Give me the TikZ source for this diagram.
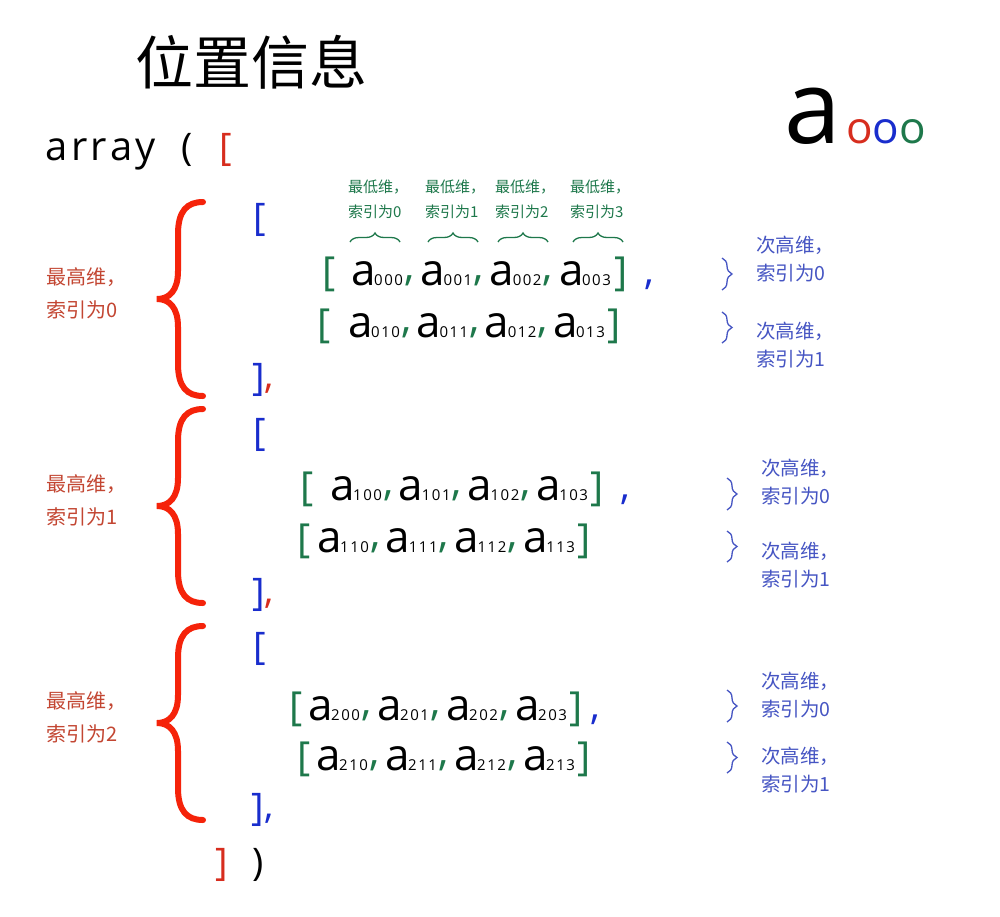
\documentclass[tikz,border=0pt]{standalone}
\usepackage{fontspec}
\setmainfont{Open Sans}
\newfontfamily\cjk{Noto Sans CJK SC}
\usetikzlibrary{decorations.pathreplacing}
\definecolor{bred}{RGB}{245,35,10}
\definecolor{ared}{RGB}{215,45,30}
\definecolor{lred}{RGB}{195,70,50}
\definecolor{dblue}{RGB}{25,45,205}
\definecolor{lblue}{RGB}{70,85,195}
\definecolor{dgreen}{RGB}{30,120,75}
\tikzset{
  g/.style={inner sep=0pt, anchor=base west},
  aglyph/.style={g, font=\fontsize{44}{44}\selectfont},
  sglyph/.style={g, font=\fontsize{15}{15}\selectfont\addfontfeature{LetterSpace=10}},
  gcom/.style={g, text=dgreen, font=\fontsize{42}{42}\selectfont},
  gbr/.style={g, text=dgreen, font=\fontsize{40}{40}\selectfont},
  bbr/.style={g, text=dblue, font=\fontsize{38}{38}\selectfont},
  rbr/.style={g, text=ared, font=\fontsize{38}{38}\selectfont},
  redlab/.style={inner sep=0pt, anchor=west, align=left, text=lred, font=\fontsize{20}{33}\cjk},
  bluelab/.style={inner sep=0pt, anchor=west, align=left, text=lblue, font=\fontsize{19.5}{28.5}\cjk},
  greenlab/.style={inner sep=0pt, anchor=west, align=left, text=dgreen, font=\fontsize{15}{25}\cjk},
  gbrace/.style={draw=dgreen, line width=1.3pt, decorate, decoration={brace, amplitude=9pt}},
  bbrace/.style={draw=lblue, line width=1.3pt, decorate, decoration={brace, amplitude=10pt}},
  bigbrace/.pic={\draw[bred, line width=6pt, line cap=round]
     (46,-97) .. controls (30,-97) and (21,-88) .. (21,-65) -- (21,-28)
     .. controls (21,-8) and (12,0) .. (0,0)
     .. controls (12,0) and (21,8) .. (21,28) -- (21,65)
     .. controls (21,88) and (30,97) .. (46,97);}
}
\newcommand\arow[8]{% name, open x, first a x, step, close x, baseline, i, j
  \node[gbr] (#1o) at (#2,#6) {[};
  \foreach \k in {0,1,2,3} {
    \node[aglyph] (#1a\k) at ({#3+\k*#4},#6) {a};
    \node[sglyph] (#1s\k) at ({#3+\k*#4+23},#6) {#7#8\k};
  }
  \foreach \k in {0,1,2} {
    \node[gcom] (#1c\k) at ({#3+\k*#4+53},{#6-5}) {,};
  }
  \node[gbr] (#1e) at (#5,#6) {]};
}
\begin{document}
\begin{tikzpicture}[x=1pt,y=-1pt]
\useasboundingbox[fill=white] (0,0) rectangle (1000,916);

% title
\node[inner sep=0pt, font=\fontsize{58}{58}\cjk] (title) at (251,62) {位置信息};

% a ooo
\node[g, font=\fontsize{102}{102}\selectfont] (bigA) at (784,143) {a};
\node[g, font=\fontsize{44}{44}\selectfont] (ooo) at (846,143) {\textcolor{ared}{o}\textcolor{dblue}{o}\textcolor{dgreen}{o}};

% array ( [
\node[g, font=\fontsize{40}{40}\selectfont\addfontfeature{LetterSpace=9}] (arr) at (45,160) {array};
\node[g, font=\fontsize{38}{38}\selectfont] (lp) at (181,160) {(};
\node[rbr] (lb) at (219,160) {[};

% green labels and overbraces
\node[greenlab] (gl0) at (348,199) {最低维，\\索引为0};
\node[greenlab] (gl1) at (425,199) {最低维，\\索引为1};
\node[greenlab] (gl2) at (495,199) {最低维，\\索引为2};
\node[greenlab] (gl3) at (570,199) {最低维，\\索引为3};
\coordinate (ob0a) at (350,242); \coordinate (ob0b) at (400,242);
\coordinate (ob1a) at (428,242); \coordinate (ob1b) at (478,242);
\coordinate (ob2a) at (498,242); \coordinate (ob2b) at (548,242);
\coordinate (ob3a) at (573,242); \coordinate (ob3b) at (623,242);
\draw[gbrace] (ob0a) -- (ob0b);
\draw[gbrace] (ob1a) -- (ob1b);
\draw[gbrace] (ob2a) -- (ob2b);
\draw[gbrace] (ob3a) -- (ob3b);

% block 0
\pic (B0) at (157,299) {bigbrace};
\node[redlab] (rl0) at (46,293) {最高维，\\索引为0};
\node[bbr] (b0o) at (253,230) {[};
\arow{r00}{322}{351}{69.3}{614}{285}{0}{0}
\node[g, text=dblue, font=\fontsize{40}{40}\selectfont] (r00x) at (644,284) {,};
\arow{r01}{317}{348}{68.3}{607}{337}{0}{1}
\node[bbr] (b0c) at (252,390) {]};
\node[g, text=ared, font=\fontsize{38}{38}\selectfont] (b0x) at (264,388) {,};

% block 1
\pic (B1) at (157,506) {bigbrace};
\node[redlab] (rl1) at (46,500) {最高维，\\索引为1};
\node[bbr] (b1o) at (253,445) {[};
\arow{r10}{300}{330}{68.7}{590}{500}{1}{0}
\node[g, text=dblue, font=\fontsize{40}{40}\selectfont] (r10x) at (620,499) {,};
\arow{r11}{297}{317}{68.7}{577}{552}{1}{1}
\node[bbr] (b1c) at (252,605) {]};
\node[g, text=ared, font=\fontsize{38}{38}\selectfont] (b1x) at (264,603) {,};

% block 2
\pic (B2) at (157,723) {bigbrace};
\node[redlab] (rl2) at (46,717) {最高维，\\索引为2};
\node[bbr] (b2o) at (253,659) {[};
\arow{r20}{289}{308}{69}{569}{720}{2}{0}
\node[g, text=dblue, font=\fontsize{40}{40}\selectfont] (r20x) at (590,719) {,};
\arow{r21}{297}{316}{69}{577}{770}{2}{1}
\node[bbr] (b2c) at (251,820) {]};
\node[g, text=dblue, font=\fontsize{38}{38}\selectfont] (b2x) at (264,818) {,};

% closing ] )
\node[rbr] (cb) at (215,875) {]};
\node[g, font=\fontsize{38}{38}\selectfont] (rp) at (252,875) {)};

% right blue braces and labels
\coordinate (s00a) at (722,258); \coordinate (s00b) at (722,290);
\coordinate (s01a) at (722,312); \coordinate (s01b) at (722,343);
\coordinate (s10a) at (727,478); \coordinate (s10b) at (727,510);
\coordinate (s11a) at (727,531); \coordinate (s11b) at (727,562);
\coordinate (s20a) at (727,690); \coordinate (s20b) at (727,722);
\coordinate (s21a) at (727,742); \coordinate (s21b) at (727,773);
\draw[bbrace] (s00a) -- (s00b);
\draw[bbrace] (s01a) -- (s01b);
\draw[bbrace] (s10a) -- (s10b);
\draw[bbrace] (s11a) -- (s11b);
\draw[bbrace] (s20a) -- (s20b);
\draw[bbrace] (s21a) -- (s21b);
\node[bluelab] (bl00) at (756,259) {次高维，\\索引为0};
\node[bluelab] (bl01) at (756,345) {次高维，\\索引为1};
\node[bluelab] (bl10) at (761,482) {次高维，\\索引为0};
\node[bluelab] (bl11) at (761,565) {次高维，\\索引为1};
\node[bluelab] (bl20) at (761,695) {次高维，\\索引为0};
\node[bluelab] (bl21) at (761,770) {次高维，\\索引为1};
\end{tikzpicture}
\end{document}
